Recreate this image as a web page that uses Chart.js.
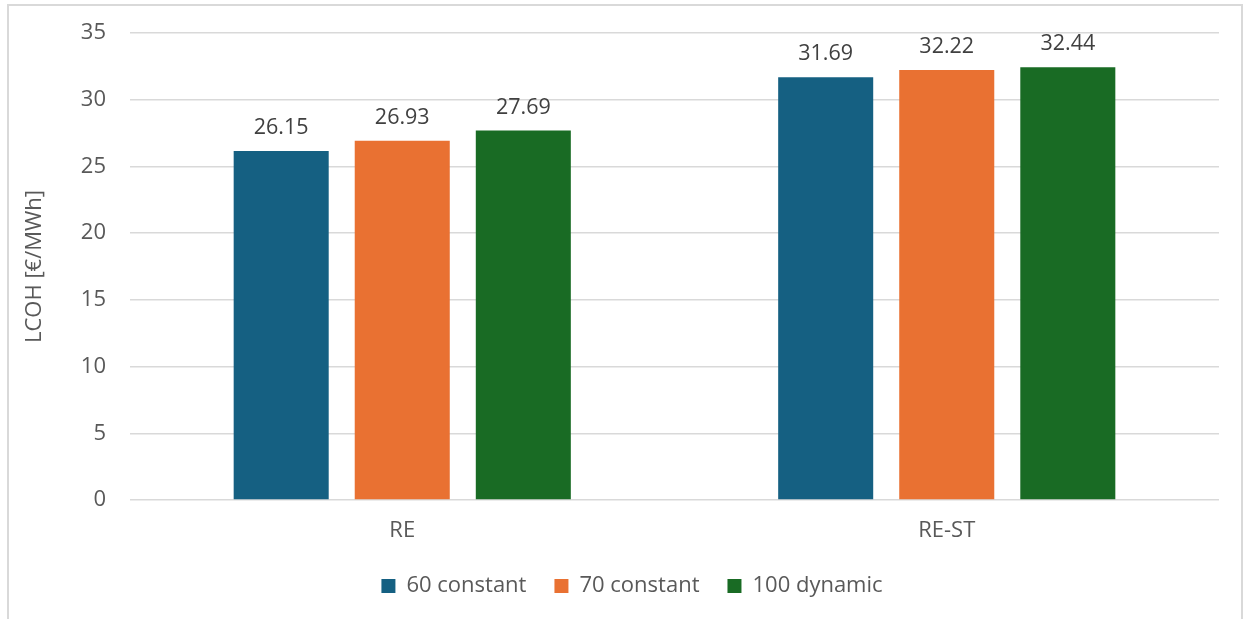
<!DOCTYPE html>
<html>
<head>
<meta charset="utf-8">
<script src="https://cdn.jsdelivr.net/npm/chart.js@4.4.1/dist/chart.umd.min.js"></script>
<style>
  html, body { margin: 0; padding: 0; background: #ffffff; }
  body { width: 1248px; height: 619px; position: relative; overflow: hidden; }
  #frame {
    position: absolute; left: 7px; top: 4px; width: 1236px; height: 700px;
    border: 2px solid #d9d9d9; box-sizing: border-box;
  }
  #wrap { position: absolute; left: 0; top: 0; width: 1248px; height: 619px; }
</style>
</head>
<body>
<div id="frame"></div>
<div id="wrap"><canvas id="chart" width="1248" height="619"></canvas></div>
<script>
const categories = ['RE', 'RE-ST'];
const seriesNames = ['60 constant', '70 constant', '100 dynamic'];
const values60 = [26.15, 31.69];
const values70 = [26.93, 32.22];
const values100 = [27.69, 32.44];
const yTicks = [0, 5, 10, 15, 20, 25, 30, 35];

const colors = ['#156082', '#E97132', '#196B24'];
const FONT = '"Open Sans", "Liberation Sans", sans-serif';
const TEXT = '#595959';

// Writes each bar's value just above it
const valueLabels = {
  id: 'valueLabels',
  afterDatasetsDraw(chart) {
    const ctx = chart.ctx;
    ctx.save();
    ctx.font = '21.5px ' + FONT;
    ctx.fillStyle = '#404040';
    ctx.textAlign = 'center';
    ctx.textBaseline = 'alphabetic';
    chart.data.datasets.forEach((ds, i) => {
      const meta = chart.getDatasetMeta(i);
      meta.data.forEach((bar, j) => {
        ctx.fillText(ds.data[j].toFixed(2), bar.x, bar.y - 17);
      });
    });
    ctx.restore();
  }
};

const seriesData = [values60, values70, values100];

new Chart(document.getElementById('chart'), {
  type: 'bar',
  data: {
    labels: categories,
    datasets: seriesNames.map((name, i) => ({
      label: name,
      data: seriesData[i],
      backgroundColor: colors[i],
      borderWidth: 0,
      categoryPercentage: 0.667,
      barPercentage: 0.785
    }))
  },
  options: {
    responsive: false,
    animation: false,
    devicePixelRatio: 1,
    layout: { padding: { left: 16, right: 0, top: 33, bottom: 12 } },
    plugins: {
      legend: {
        position: 'bottom',
        labels: {
          boxWidth: 14,
          boxHeight: 14,
          padding: 28,
          color: TEXT,
          font: { family: FONT, size: 22 }
        }
      },
      tooltip: { enabled: false }
    },
    scales: {
      x: {
        grid: { display: false },
        border: { display: false },
        ticks: { color: TEXT, font: { family: FONT, size: 22 }, padding: 10 },
        afterFit(scale) {
          scale.height = 47;
          scale.paddingLeft = 0;
          scale.paddingRight = 29;
        }
      },
      y: {
        min: 0,
        max: 35,
        afterBuildTicks(scale) { scale.ticks = yTicks.map(v => ({ value: v })); },
        grid: { color: '#d9d9d9', lineWidth: 1.5, drawTicks: false },
        border: { display: false },
        ticks: { color: TEXT, font: { family: FONT, size: 22 }, padding: 24 },
        title: {
          display: true,
          text: 'LCOH [€/MWh]',
          color: TEXT,
          font: { family: FONT, size: 22 },
          padding: { top: 6, bottom: 0 }
        },
        afterFit(scale) {
          scale.width = 114;
          scale.paddingTop = 0;
          scale.paddingBottom = 0;
        }
      }
    }
  },
  plugins: [valueLabels]
});
</script>
</body>
</html>
